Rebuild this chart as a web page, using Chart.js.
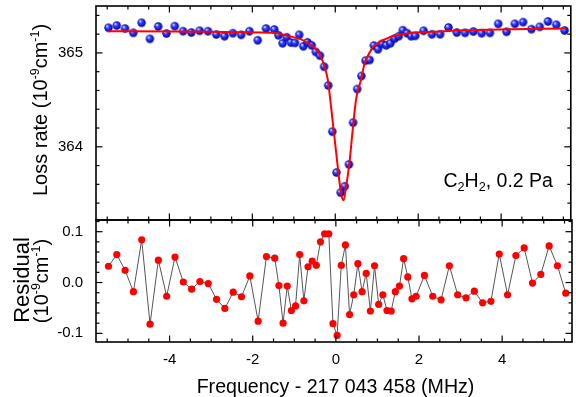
<!DOCTYPE html>
<html><head><meta charset="utf-8">
<script src="https://cdn.jsdelivr.net/npm/chart.js@4/dist/chart.umd.min.js"></script>
<style>
html,body{margin:0;padding:0;background:#fff;}
#wrap{position:relative;width:576px;height:397px;background:#fff;}
canvas{position:absolute;left:0;top:0;}
</style></head><body>
<div id="wrap"><canvas id="c1" width="576" height="397"></canvas><canvas id="c2" width="576" height="397"></canvas></div>
<script>
// ---- data ----
const freq = [
 -5.47,-5.27,-5.07,-4.87,-4.67,-4.47,-4.27,-4.07,-3.87,-3.67,-3.47,-3.27,-3.07,-2.87,-2.67,-2.47,-2.27,-2.07,-1.87,-1.67,-1.47,
 -1.37,-1.27,-1.17,-1.07,-0.97,-0.87,-0.77,-0.67,-0.57,-0.47,-0.37,-0.27,-0.17,-0.07,0.03,0.13,0.23,0.33,0.43,0.53,0.63,0.73,0.83,0.93,1.03,1.13,1.23,1.33,1.43,1.53,1.63,1.73,1.83,1.93,
 2.13,2.33,2.53,2.73,2.93,3.13,3.33,3.53,3.73,3.93,4.13,4.33,4.53,4.73,4.93,5.13,5.33,5.53
];
const lossRate = [
 365.268,365.292,365.260,365.214,365.321,365.150,365.282,365.207,365.285,365.231,365.217,365.236,365.231,365.196,365.178,365.210,365.193,365.231,365.135,365.260,365.249,
 365.188,365.103,365.167,365.110,365.107,365.193,365.071,365.113,365.081,365.011,364.971,364.853,364.653,364.161,363.726,363.512,363.579,363.812,364.257,364.615,364.754,364.918,364.925,365.078,365.039,365.096,365.081,365.103,365.153,365.178,365.242,365.210,365.178,365.182,
 365.236,365.199,365.199,365.271,365.217,365.214,365.228,365.210,365.214,365.310,365.225,365.310,365.328,365.253,365.278,365.335,365.300,365.239
];
const residual = [
 0.032,0.055,0.024,-0.018,0.084,-0.082,0.044,-0.027,0.050,0.001,-0.013,0.002,-0.002,-0.033,-0.051,-0.019,-0.028,0.013,-0.076,0.051,0.048,
 -0.006,-0.080,-0.007,-0.055,-0.046,0.055,-0.036,0.031,0.042,0.034,0.080,0.096,0.096,-0.081,-0.104,0.034,0.074,-0.063,-0.024,0.037,-0.018,0.018,-0.056,0.033,-0.043,-0.024,-0.055,-0.056,-0.018,-0.007,0.047,0.011,-0.032,-0.027,
 0.014,-0.027,-0.034,0.033,-0.024,-0.030,-0.017,-0.040,-0.037,0.056,-0.024,0.053,0.068,-0.001,0.016,0.072,0.033,-0.021
];
const fitFreq = [-5.47,-3.86,-2.30,-1.50,-1.10,-0.86,-0.70,-0.54,-0.38,-0.26,-0.18,-0.12,-0.03,0.06,0.14,0.20,0.26,0.34,0.42,0.50,0.62,0.70,0.82,0.98,1.22,1.46,1.78,2.34,3.14,3.94,5.55];
const fitLoss = [365.231,365.228,365.221,365.214,365.178,365.150,365.118,365.071,364.989,364.857,364.714,364.500,364.143,363.786,363.501,363.430,363.572,363.822,364.179,364.500,364.714,364.875,365.000,365.089,365.150,365.185,365.210,365.225,365.242,365.249,365.260];
const xTickLabels = [-4,-2,0,2,4];
const lossTickLabels = [364,365];
const residualTickLabels = [-0.1,0.0,0.1];

// ---- styling ----
const FONT = "'Liberation Sans', Arial, sans-serif";
const X_MIN = -5.77, X_MAX = 5.68;

function makeBall(r){
  const s = Math.ceil(r*2)+2;
  const c = document.createElement('canvas'); c.width = s; c.height = s;
  const g = c.getContext('2d'); const cx = s/2, cy = s/2;
  const grad = g.createRadialGradient(cx-r*0.35, cy-r*0.4, r*0.1, cx, cy, r);
  grad.addColorStop(0,'#d0d6ff'); grad.addColorStop(0.35,'#3040ff'); grad.addColorStop(1,'#0000a8');
  g.fillStyle = grad; g.beginPath(); g.arc(cx,cy,r,0,Math.PI*2); g.fill();
  return c;
}
const ball = makeBall(4.2);

function drawRich(ctx, segs, x, y, rot, base, align){
  ctx.save();
  ctx.translate(x,y); ctx.rotate(rot);
  ctx.fillStyle = '#000'; ctx.textBaseline = 'alphabetic'; ctx.textAlign = 'left';
  let total = 0;
  const ws = segs.map(s=>{ ctx.font = (base*(s.scale||1))+'px '+FONT; const w = ctx.measureText(s.t).width; total += w; return w; });
  let cx = align==='center' ? -total/2 : 0;
  segs.forEach((s,i)=>{ ctx.font = (base*(s.scale||1))+'px '+FONT; ctx.fillText(s.t, cx, (s.dy||0)*base); cx += ws[i]; });
  ctx.restore();
}
const SUP = {scale:0.62, dy:-0.40};
const SUB = {scale:0.65, dy:0.22};
const unitSegs = [{t:'(10'},Object.assign({t:'-9'},SUP),{t:'cm'},Object.assign({t:'-1'},SUP),{t:')'}];

const frame = {
  id:'frame',
  afterDatasetsDraw(chart, args, opts){
    const {ctx, chartArea:a, scales:{x,y}} = chart;
    ctx.save();
    ctx.strokeStyle = '#000';
    ctx.lineWidth = 1.2;
    const seg = (x1,y1,x2,y2)=>{ctx.beginPath();ctx.moveTo(x1,y1);ctx.lineTo(x2,y2);ctx.stroke();};
    for (let k=-11;k<=11;k++){
      const v = k*0.5; if (v < x.min || v > x.max) continue;
      const L = (k%4===0)?6.5:3.5; const px = x.getPixelForValue(v);
      seg(px,a.top,px,a.top+L); seg(px,a.bottom,px,a.bottom-L);
    }
    const st = opts.yStep;
    for (let k=Math.ceil(y.min/st-1e-9); k<=Math.floor(y.max/st+1e-9); k++){
      const v = k*st; const L = (k%5===0)?6.5:3.5; const py = y.getPixelForValue(v);
      seg(a.left,py,a.left+L,py); seg(a.right,py,a.right-L,py);
    }
    ctx.lineWidth = 1.6;
    ctx.strokeRect(a.left, a.top, a.right-a.left, a.bottom-a.top);
    ctx.restore();
  }
};

const topText = {
  id:'topText',
  afterDraw(chart){
    const ctx = chart.ctx;
    drawRich(ctx, [{t:'Loss rate '}].concat(unitSegs), 46.5, 110, -Math.PI/2, 20, 'center');
    drawRich(ctx, [{t:'C'},Object.assign({t:'2'},SUB),{t:'H'},Object.assign({t:'2'},SUB),{t:', 0.2 Pa'}], 443.5, 186.7, 0, 19.5, 'left');
  }
};
const botText = {
  id:'botText',
  afterDraw(chart){
    const ctx = chart.ctx;
    drawRich(ctx, [{t:'Residual'}], 28.5, 280, -Math.PI/2, 22, 'center');
    drawRich(ctx, unitSegs, 48, 281, -Math.PI/2, 20, 'center');
    drawRich(ctx, [{t:'Frequency - 217 043 458 (MHz)'}], 335.5, 393, 0, 19.6, 'center');
  }
};

function noPad(s){ s.paddingTop = 0; s.paddingBottom = 0; s.paddingLeft = 0; s.paddingRight = 0; }

new Chart(document.getElementById('c1'), {
  type:'scatter',
  data:{datasets:[
    {type:'line', data: fitFreq.map((f,i)=>({x:f,y:fitLoss[i]})), borderColor:'#ff0000', borderWidth:2, pointRadius:0, cubicInterpolationMode:'monotone', fill:false, order:0},
    {type:'scatter', data: freq.map((f,i)=>({x:f,y:lossRate[i]})), pointStyle: ball, pointRadius:4.2, order:1}
  ]},
  options:{
    responsive:false, animation:false, events:[],
    layout:{padding:{left:0,right:4,top:6,bottom:177}},
    plugins:{legend:{display:false}, tooltip:{enabled:false}, frame:{yStep:0.2}},
    scales:{
      x:{type:'linear', min:X_MIN, max:X_MAX, display:false},
      y:{min:363.22, max:365.5,
        grid:{display:false, drawTicks:false}, border:{display:false},
        afterFit(s){ s.width = 96; noPad(s); },
        afterBuildTicks(s){ s.ticks = lossTickLabels.map(v=>({value:v})); },
        ticks:{padding:13, color:'#000', font:{family:FONT, size:15}, callback:(v)=>String(v)}}
    }
  },
  plugins:[frame, topText]
});

new Chart(document.getElementById('c2'), {
  type:'line',
  data:{datasets:[
    {data: freq.map((f,i)=>({x:f,y:residual[i]})), borderColor:'#555555', borderWidth:1, pointRadius:3.6, pointBackgroundColor:'#ff0000', pointBorderWidth:0, tension:0, fill:false}
  ]},
  options:{
    responsive:false, animation:false, events:[],
    layout:{padding:{left:0,right:4,top:220,bottom:0}},
    plugins:{legend:{display:false}, tooltip:{enabled:false}, frame:{yStep:0.02}},
    scales:{
      x:{type:'linear', min:X_MIN, max:X_MAX,
        grid:{display:false, drawTicks:false}, border:{display:false},
        afterFit(s){ s.height = 55; noPad(s); },
        afterBuildTicks(s){ s.ticks = xTickLabels.map(v=>({value:v})); },
        ticks:{padding:9, color:'#000', font:{family:FONT, size:15}, maxRotation:0, callback:(v)=>String(v)}},
      y:{min:-0.117, max:0.123,
        grid:{display:false, drawTicks:false}, border:{display:false},
        afterFit(s){ s.width = 96; noPad(s); },
        afterBuildTicks(s){ s.ticks = residualTickLabels.map(v=>({value:v})); },
        ticks:{padding:13, color:'#000', font:{family:FONT, size:15}, callback:(v)=>Number(v).toFixed(1)}}
    }
  },
  plugins:[frame, botText]
});
</script>
</body></html>
